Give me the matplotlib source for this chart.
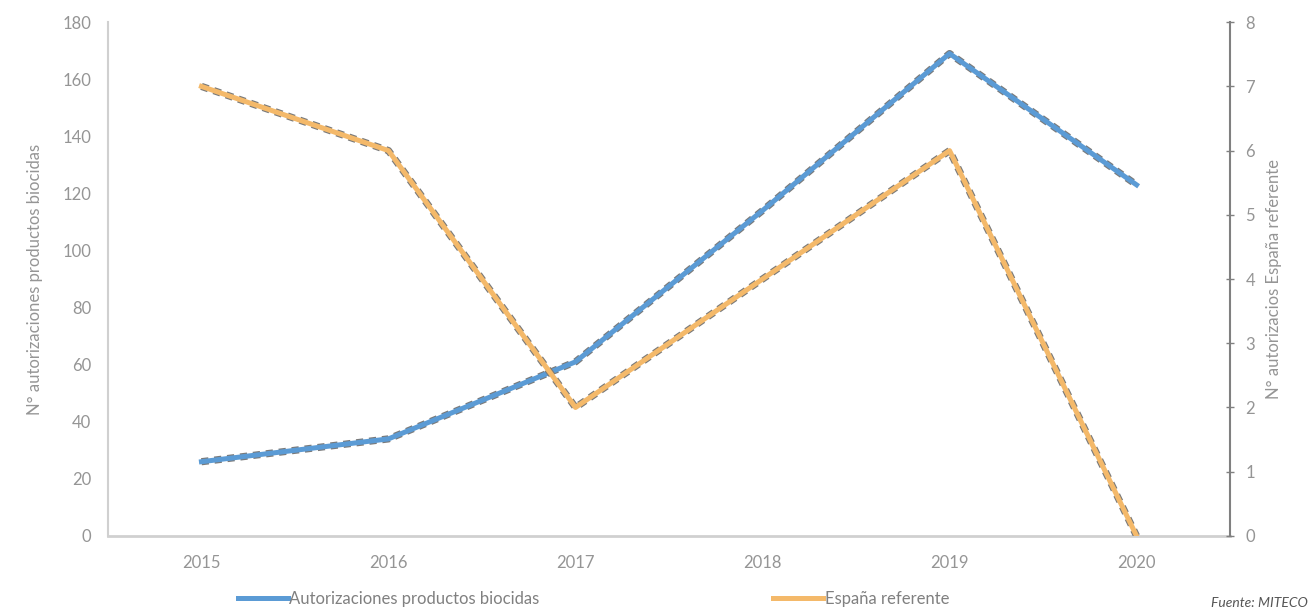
import numpy as np
import matplotlib.pyplot as plt

years = ['2015', '2016', '2017', '2018', '2019', '2020']
autorizaciones = [26, 34, 61, 114, 169, 123]
espana_ref = [7, 6, 2, 4, 6, 0]

plt.rcParams['font.family'] = ['Lato', 'DejaVu Sans']
gray = '#959595'

fig = plt.figure(figsize=(13.1, 6.16), dpi=100)
ax = fig.add_axes([0.0824, 0.13, 0.8566, 0.834])
ax2 = ax.twinx()

x = np.arange(len(years))

# thick coloured line with a dark dotted edge
ax.plot(x, autorizaciones, color='#7a7a7a', lw=5.2, ls=(0, (1, 0.8)), zorder=2)
ax.plot(x, autorizaciones, color='#5b9bd5', lw=3.6, zorder=3, label='Autorizaciones productos biocidas')
ax2.plot(x, espana_ref, color='#7a7a7a', lw=5.2, ls=(0, (1, 0.8)), zorder=2)
ax2.plot(x, espana_ref, color='#f4b96a', lw=3.6, zorder=3, label='España referente')

ax.set_xlim(-0.5, len(years) - 0.5)
ax.set_ylim(0, 180)
ax.set_yticks(range(0, 181, 20))
ax2.set_ylim(0, 8)
ax2.set_yticks(range(0, 9))

ax.set_xticks(x)
ax.set_xticklabels(years)

for a in (ax, ax2):
    a.spines['top'].set_visible(False)
ax.spines['left'].set_color('#d0d0d0')
ax.spines['left'].set_linewidth(1.5)
ax.spines['bottom'].set_color('#d0d0d0')
ax.spines['bottom'].set_linewidth(2)
ax.spines['right'].set_visible(False)
ax2.spines['left'].set_visible(False)
ax2.spines['bottom'].set_visible(False)
ax2.spines['right'].set_color('#808080')
ax2.spines['right'].set_linewidth(1.5)

ax.tick_params(axis='y', length=0, labelsize=12, labelcolor=gray, pad=12)
ax.tick_params(axis='x', length=0, labelsize=12, labelcolor=gray, pad=14)
ax2.tick_params(axis='y', direction='inout', length=6, width=1, color='#808080', labelsize=12, labelcolor=gray, pad=8)

ax.set_ylabel('N° autorizaciones productos biocidas', fontsize=12, color=gray, labelpad=14)
ax2.set_ylabel('N° autorizacios España referente', fontsize=12, color=gray, labelpad=8)

h1, l1 = ax.get_legend_handles_labels()
h2, l2 = ax2.get_legend_handles_labels()
fig.legend(h1 + h2, l1 + l2, loc='lower left', bbox_to_anchor=(0.17, -0.01), ncol=2,
           frameon=False, fontsize=12, labelcolor='#808080', columnspacing=14,
           handlelength=3, handletextpad=0.1)

fig.text(0.998, 0.012, 'Fuente: MITECO', fontsize=10, color='#555555', style='italic',
         ha='right', va='bottom')

fig.savefig('out.png', dpi=100)
